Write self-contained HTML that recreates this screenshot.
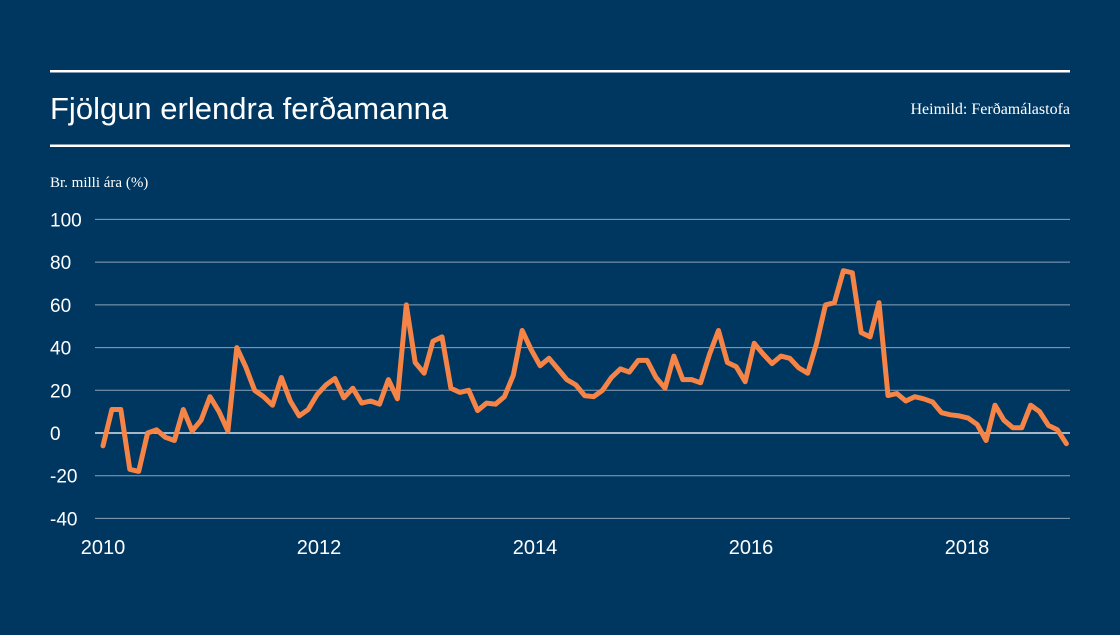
<!DOCTYPE html>
<html><head><meta charset="utf-8"><style>
body{margin:0;background:#003761;}
svg text{font-family:"Liberation Sans",sans-serif;fill:#fff;}
</style></head><body>
<svg width="1120" height="630" viewBox="0 0 1120 630">
<rect width="1120" height="630" fill="#003761"/>
<rect x="50" y="70" width="1020" height="2.5" fill="#fff"/>
<rect x="50" y="144.5" width="1020" height="2.5" fill="#fff"/>
<text x="50" y="119" font-size="31">Fjölgun erlendra ferðamanna</text>
<text x="1070" y="114" font-size="16" text-anchor="end" style="font-family:'Liberation Serif',serif">Heimild: Ferðamálastofa</text>
<text x="50" y="187" font-size="15" style="font-family:'Liberation Serif',serif">Br. milli ára (%)</text>
<g id="grid"></g><g id="xt"></g>
<path id="line" fill="none" stroke="#f68446" stroke-width="5" stroke-linejoin="round" stroke-linecap="round"/>
</svg>
<script>
const yTicks=[100,80,60,40,20,0,-20,-40];
const years=[2010,2012,2014,2016,2018];
const values=[
-6,11,11,-17,-18,0,1.5,-2,-3.5,11,1,6,
17,10,1,40,31,20,17,13,26,15,8,11,
18,22.5,25.5,16.5,21,14,15,13.5,25,16,60,33,
28,43,45,21,19,20,10.5,14,13.5,17,27,48,
39,31.5,35,30,25,22.5,17.5,17,20,26,30,28.5,
34,34,26,21,36,25,25,23.5,37,48,33,31,
24,42,37,32.5,36,35,30.5,28,42,60,61,76,
75,47,45,61,17.5,18.5,15,17,16,14.5,9.5,8.5,
8,7,4,-3.5,13,6,2.5,2.5,13,10,3.5,1.5,-5];
const y=v=>433-(v)*2.1357;
const x=m=>103+m*8.92;
const yearX=yr=>103+(yr-2010)*108;
const ns='http://www.w3.org/2000/svg';
const g=document.getElementById('grid');
yTicks.forEach(t=>{
 const l=document.createElementNS(ns,'line');
 l.setAttribute('x1',95);l.setAttribute('x2',1070);l.setAttribute('y1',y(t));l.setAttribute('y2',y(t));
 l.setAttribute('stroke',t===0?'#dbe4ec':'#8aa3ba');l.setAttribute('stroke-width',t===0?1.5:1);
 
 
 g.appendChild(l);
 const tx=document.createElementNS(ns,'text');
 tx.setAttribute('x',50);tx.setAttribute('y',y(t)+7);tx.setAttribute('font-size',19);
 tx.textContent=t;
 
 
 g.appendChild(tx);
});
const xt=document.getElementById('xt');
years.forEach(yr=>{
 const tx=document.createElementNS(ns,'text');
 tx.setAttribute('x',yearX(yr));tx.setAttribute('y',554);tx.setAttribute('font-size',20);tx.setAttribute('text-anchor','middle');
 tx.textContent=yr;
 
 
 xt.appendChild(tx);
});
document.getElementById('line').setAttribute('d',values.map((v,i)=>(i?'L':'M')+x(i).toFixed(1)+','+y(v).toFixed(1)).join(''));
</script>
</body></html>
